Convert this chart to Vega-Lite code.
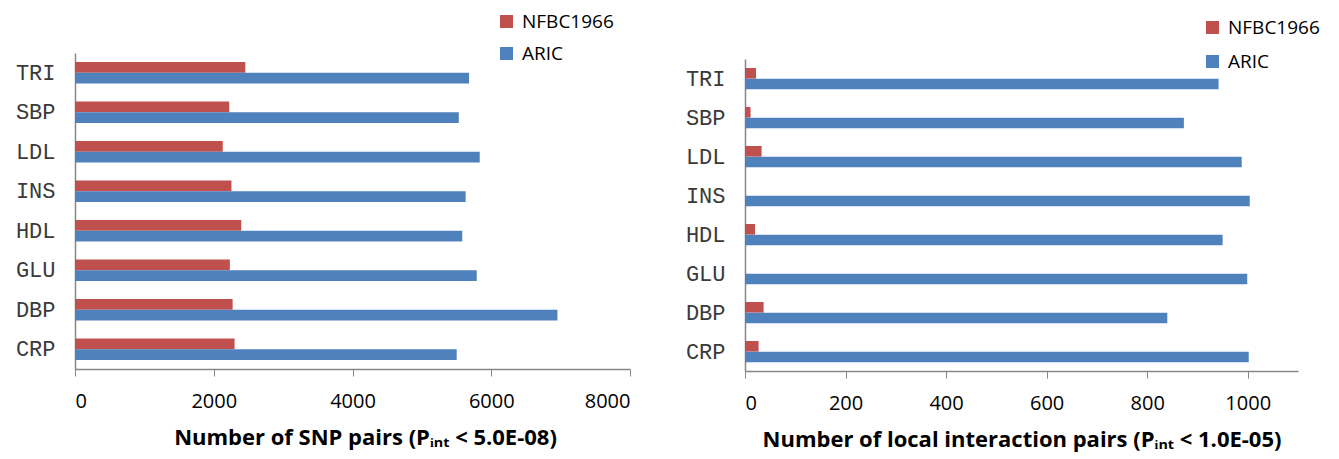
{
  "$schema": "https://vega.github.io/schema/vega-lite/v6.json",
  "padding": {"left": 15, "top": 12, "right": 5, "bottom": 6},
  "background": "white",
  "spacing": 54,
  "datasets": {
    "d": [
      {"trait": "TRI", "cohort": "NFBC1966", "snp_pairs": 2455, "local_pairs": 22},
      {"trait": "TRI", "cohort": "ARIC", "snp_pairs": 5680, "local_pairs": 942},
      {"trait": "SBP", "cohort": "NFBC1966", "snp_pairs": 2223, "local_pairs": 11},
      {"trait": "SBP", "cohort": "ARIC", "snp_pairs": 5532, "local_pairs": 873},
      {"trait": "LDL", "cohort": "NFBC1966", "snp_pairs": 2130, "local_pairs": 33},
      {"trait": "LDL", "cohort": "ARIC", "snp_pairs": 5834, "local_pairs": 988},
      {"trait": "INS", "cohort": "NFBC1966", "snp_pairs": 2255, "local_pairs": 0},
      {"trait": "INS", "cohort": "ARIC", "snp_pairs": 5631, "local_pairs": 1004},
      {"trait": "HDL", "cohort": "NFBC1966", "snp_pairs": 2396, "local_pairs": 20},
      {"trait": "HDL", "cohort": "ARIC", "snp_pairs": 5582, "local_pairs": 950},
      {"trait": "GLU", "cohort": "NFBC1966", "snp_pairs": 2232, "local_pairs": 0},
      {"trait": "GLU", "cohort": "ARIC", "snp_pairs": 5791, "local_pairs": 999},
      {"trait": "DBP", "cohort": "NFBC1966", "snp_pairs": 2272, "local_pairs": 37},
      {"trait": "DBP", "cohort": "ARIC", "snp_pairs": 6954, "local_pairs": 840},
      {"trait": "CRP", "cohort": "NFBC1966", "snp_pairs": 2300, "local_pairs": 27},
      {"trait": "CRP", "cohort": "ARIC", "snp_pairs": 5502, "local_pairs": 1002}
    ]
  },
  "hconcat": [
    {
      "data": {"name": "d"},
      "width": 555,
      "height": 316,
      "mark": {"type": "bar"},
      "encoding": {
        "y": {
          "field": "trait", "type": "nominal",
          "sort": ["TRI", "SBP", "LDL", "INS", "HDL", "GLU", "DBP", "CRP"],
          "scale": {"paddingInner": 0.46, "paddingOuter": 0.23},
          "title": null
        },
        "yOffset": {
          "field": "cohort", "type": "nominal",
          "sort": ["NFBC1966", "ARIC"],
          "scale": {"paddingInner": 0, "paddingOuter": 0}
        },
        "x": {
          "field": "snp_pairs", "type": "quantitative",
          "scale": {"domain": [0, 8000], "nice": false},
          "axis": {"values": [0, 2000, 4000, 6000, 8000], "format": "d", "titleX": 290, "title": "Number of SNP pairs (Pᵢₙₜ < 5.0E-08)"}
        },
        "color": {
          "field": "cohort", "type": "nominal",
          "scale": {"domain": ["NFBC1966", "ARIC"], "range": ["#C0504D", "#4F81BD"]},
          "legend": {"orient": "none", "legendX": 422, "legendY": -41, "rowPadding": 12, "title": null}
        }
      }
    },
    {
      "data": {"name": "d"},
      "width": 553,
      "height": 318,
      "mark": {"type": "bar"},
      "encoding": {
        "y": {
          "field": "trait", "type": "nominal",
          "sort": ["TRI", "SBP", "LDL", "INS", "HDL", "GLU", "DBP", "CRP"],
          "scale": {"paddingInner": 0.46, "paddingOuter": 0.23, "range": [6, 318]},
          "title": null
        },
        "yOffset": {
          "field": "cohort", "type": "nominal",
          "sort": ["NFBC1966", "ARIC"],
          "scale": {"paddingInner": 0, "paddingOuter": 0}
        },
        "x": {
          "field": "local_pairs", "type": "quantitative",
          "scale": {"domain": [0, 1100], "nice": false},
          "axis": {"values": [0, 200, 400, 600, 800, 1000], "format": "d", "title": "Number of local interaction pairs (Pᵢₙₜ < 1.0E-05)"}
        },
        "color": {
          "field": "cohort", "type": "nominal",
          "scale": {"domain": ["NFBC1966", "ARIC"], "range": ["#C0504D", "#4F81BD"]},
          "legend": {"orient": "none", "legendX": 458, "legendY": -35, "rowPadding": 14, "title": null}
        }
      }
    }
  ],
  "resolve": {"scale": {"color": "independent", "y": "independent"}, "legend": {"color": "independent"}},
  "config": {
    "view": {"stroke": null},
    "axis": {
      "grid": false,
      "domainColor": "#868686",
      "tickColor": "#868686",
      "labelColor": "#000000",
      "labelFont": "Open Sans",
      "labelFontSize": 20,
      "titleFont": "Open Sans",
      "titleFontWeight": "bold",
      "titleFontSize": 22,
      "titleColor": "#000000"
    },
    "axisX": {"tickSize": 7, "labelPadding": 15, "titlePadding": 16, "domainWidth": 1.5},
    "axisY": {
      "ticks": false,
      "labelFont": "Liberation Mono",
      "labelFontSize": 22,
      "labelColor": "#3a3a3a",
      "labelPadding": 20,
      "domainWidth": 1.5
    },
    "legend": {
      "labelFont": "Open Sans",
      "labelFontSize": 19,
      "labelColor": "#000000",
      "symbolType": "square",
      "symbolSize": 169,
      "symbolStrokeWidth": 0,
      "labelOffset": 6,
      "padding": 0
    }
  }
}
